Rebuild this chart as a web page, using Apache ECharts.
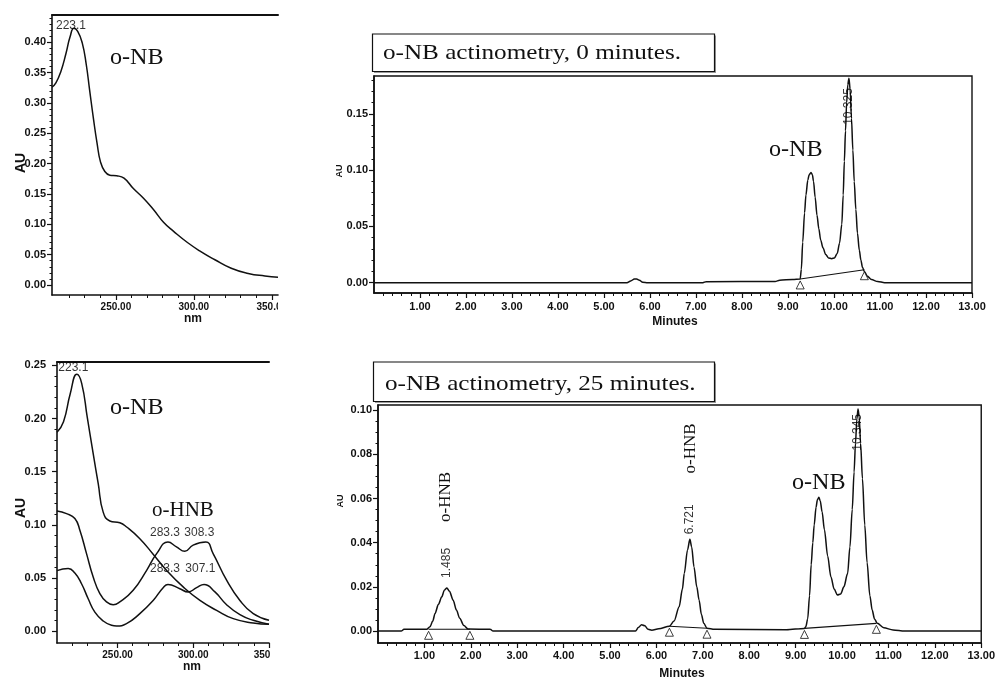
<!DOCTYPE html>
<html>
<head>
<meta charset="utf-8">
<title>o-NB actinometry</title>
<script src="https://cdn.jsdelivr.net/npm/echarts@6/dist/echarts.min.js"></script>
<style>
  html, body { margin: 0; padding: 0; background: #fff; }
  #chart { width: 998px; height: 686px; }
</style>
</head>
<body>
<div id="chart"></div>
<script>
// ---------- UV spectra: [wavelength nm, absorbance AU] ----------
const spectrumNB0 = [
  [209, 0.326], [211.5, 0.333], [214.7, 0.352], [218, 0.382], [220.6, 0.409],
  [223.1, 0.423], [225.5, 0.418], [228.4, 0.399], [231, 0.363], [233.1, 0.322],
  [235.7, 0.272], [237.9, 0.234], [240.1, 0.203], [242.9, 0.187], [246.1, 0.181],
  [250.5, 0.180], [255.2, 0.176], [261.2, 0.159], [267.7, 0.143], [274.2, 0.124],
  [280.7, 0.103], [287.2, 0.088], [295.9, 0.070], [304.5, 0.055], [313.2, 0.042],
  [324, 0.0275], [334.9, 0.019], [345.6, 0.0148], [354, 0.0127]
];
const spectrumNB25 = [
  [210, 0.187], [214.3, 0.197], [218.7, 0.223], [223.1, 0.2415], [226.3, 0.233],
  [230, 0.201], [233.9, 0.167], [237.2, 0.139], [240.5, 0.112], [244.9, 0.1037],
  [251.5, 0.102], [256, 0.098], [264.7, 0.087], [273.5, 0.0724], [282.3, 0.0573],
  [293.3, 0.0417], [304.4, 0.029], [315.4, 0.0197], [326.4, 0.0119], [339.6, 0.0078],
  [350, 0.0066]
];
const spectrumHNB1 = [
  [210, 0.113], [216.3, 0.1106], [221.8, 0.106], [225.1, 0.095], [229.5, 0.073],
  [233.9, 0.051], [238.3, 0.0354], [242.7, 0.0276], [247.1, 0.025], [251.5, 0.0276],
  [260.3, 0.0385], [269.2, 0.0573], [275.8, 0.073], [283.3, 0.0839], [288.9, 0.0793],
  [294.4, 0.0752], [299.9, 0.081], [308.3, 0.0839], [313.1, 0.073], [322, 0.048],
  [330.8, 0.029], [339.6, 0.0166], [350, 0.0103]
];
const spectrumHNB2 = [
  [210, 0.057], [217.4, 0.059], [221.8, 0.0547], [226.2, 0.0447], [230.6, 0.0306],
  [235, 0.018], [240.5, 0.0097], [246, 0.0056], [249.3, 0.005], [255.9, 0.0072],
  [264.7, 0.0166], [273.5, 0.029], [280.1, 0.041], [283.3, 0.044], [291.1, 0.040],
  [296.6, 0.037], [302.2, 0.041], [307.1, 0.044], [314.3, 0.037], [322, 0.025],
  [330.8, 0.0156], [339.6, 0.0103], [350, 0.0066]
];
const maximaNB0 = [223.1];
const maximaNB25 = [223.1];
const maximaHNB1 = [283.3, 308.3];
const maximaHNB2 = [283.3, 307.1];

// ---------- HPLC traces: [retention time min, AU] ----------
const trace0min = [
  [0, 0], [5.50, 0], [5.58, 0.0015], [5.66, 0.0032], [5.71, 0.0033], [5.77, 0.0022],
  [5.84, 0.0004], [5.95, 0], [7.15, 0], [7.22, 0.0009], [8.72, 0.0010], [8.82, 0.0022],
  [9.10, 0.0029], [9.265, 0.0033], [9.29, 0.012], [9.32, 0.036], [9.36, 0.062],
  [9.39, 0.078], [9.43, 0.091], [9.46, 0.096], [9.50, 0.098], [9.53, 0.096],
  [9.555, 0.090], [9.59, 0.076], [9.63, 0.060], [9.67, 0.048], [9.71, 0.038],
  [9.76, 0.031], [9.82, 0.025], [9.88, 0.022], [9.95, 0.0213], [10.01, 0.022],
  [10.07, 0.026], [10.12, 0.035], [10.17, 0.052], [10.20, 0.078], [10.225, 0.108],
  [10.25, 0.135], [10.275, 0.160], [10.30, 0.176], [10.325, 0.1818], [10.35, 0.172],
  [10.38, 0.146], [10.41, 0.118], [10.44, 0.090], [10.475, 0.065], [10.51, 0.044],
  [10.55, 0.029], [10.585, 0.020], [10.62, 0.0135], [10.66, 0.010], [10.72, 0.006],
  [10.815, 0.0027], [10.95, 0.001], [11.10, 0], [13, 0]
];
const trace25min = [
  [0, 0], [0.50, 0], [0.56, 0.0008], [1.05, 0.0008], [1.12, 0.002], [1.18, 0.0045],
  [1.23, 0.008], [1.30, 0.012], [1.375, 0.0155], [1.43, 0.0185], [1.485, 0.0195],
  [1.54, 0.018], [1.62, 0.014], [1.69, 0.0095], [1.76, 0.0058], [1.85, 0.0025],
  [1.94, 0.0009], [2.42, 0.0008], [2.48, 0], [5.55, 0], [5.61, 0.0016], [5.68, 0.0029],
  [5.75, 0.0024], [5.82, 0.0008], [5.90, 0.0004], [6.05, 0.0010], [6.28, 0.0022],
  [6.38, 0.0045], [6.49, 0.011], [6.56, 0.019], [6.60, 0.026], [6.67, 0.0367],
  [6.721, 0.0415], [6.76, 0.038], [6.81, 0.029], [6.87, 0.020], [6.92, 0.014],
  [6.97, 0.0075], [7.02, 0.0035], [7.09, 0.0013], [7.25, 0.0008], [8.80, 0.0006],
  [9.19, 0.0012], [9.22, 0.002], [9.26, 0.0055], [9.30, 0.016], [9.335, 0.030],
  [9.37, 0.040], [9.40, 0.048], [9.44, 0.056], [9.47, 0.0595], [9.50, 0.0605],
  [9.53, 0.059], [9.57, 0.054], [9.62, 0.046], [9.69, 0.034], [9.76, 0.0246],
  [9.83, 0.019], [9.90, 0.0163], [9.97, 0.0168], [10.04, 0.020], [10.12, 0.026],
  [10.17, 0.038], [10.22, 0.055], [10.26, 0.072], [10.29, 0.085], [10.32, 0.096],
  [10.345, 0.1005], [10.37, 0.097], [10.40, 0.085], [10.44, 0.069], [10.49, 0.048],
  [10.54, 0.031], [10.60, 0.016], [10.65, 0.0095], [10.70, 0.0055], [10.76, 0.0035],
  [10.90, 0.0015], [11.10, 0.0005], [11.35, 0], [13, 0]
];
const retention0min = [10.325];
const retention25min = [1.485, 6.721, 10.345];
// integration baselines (start, end) drawn under each integrated peak group
const integration0min = [[[9.265, 0.0033], [10.66, 0.0115]]];
const integration25min = [
  [[1.09, 0.0008], [1.98, 0.0008]],
  [[6.28, 0.0022], [7.09, 0.0013]],
  [[9.19, 0.0012], [10.74, 0.0035]]
];

// ---------- tick labels ----------
const nmTicks = [250, 300, 350];
const minuteTicks = [1, 2, 3, 4, 5, 6, 7, 8, 9, 10, 11, 12, 13];
const auTicksSpec0 = [0, 0.05, 0.10, 0.15, 0.20, 0.25, 0.30, 0.35, 0.40];
const auTicksSpec25 = [0, 0.05, 0.10, 0.15, 0.20, 0.25];
const auTicksLC0 = [0, 0.05, 0.10, 0.15];
const auTicksLC25 = [0, 0.02, 0.04, 0.06, 0.08, 0.10];

// ---------- drawing ----------
const INK = '#111';
const SANS = '"Liberation Sans", Arial, Helvetica, sans-serif';
const SERIF = '"Liberation Serif", "Times New Roman", Times, serif';

function steps(from, to, step, skipEvery) {
  const out = [];
  const n = Math.round((to - from) / step);
  for (let i = 0; i <= n; i++) {
    const v = Math.round((from + i * step) * 10000) / 10000;
    if (skipEvery && Math.abs(v / skipEvery - Math.round(v / skipEvery)) < 1e-6) continue;
    out.push(v);
  }
  return out;
}

const grid = [], xAxis = [], yAxis = [], series = [];

function panel(g, c) {
  const gi = grid.length;
  grid.push(Object.assign({ containLabel: false }, g));
  const xi = xAxis.length, yi = yAxis.length;
  const lineStyle = { color: INK, width: 1.6 };
  xAxis.push({
    gridIndex: gi, type: 'value', position: 'bottom', min: c.xMin, max: c.xMax,
    axisLine: { show: true, onZero: false, lineStyle },
    axisTick: { show: true, length: 5, customValues: c.xMajor, lineStyle: { color: INK, width: 1.2 } },
    axisLabel: {
      show: true, customValues: c.xMajor, formatter: v => v.toFixed(2), margin: c.xMargin,
      color: INK, fontFamily: SANS, fontWeight: 'bold', fontSize: c.xFont, hideOverlap: false
    },
    splitLine: { show: false }
  });
  xAxis.push({
    gridIndex: gi, type: 'value', position: 'bottom', min: c.xMin, max: c.xMax,
    axisLine: { show: false, onZero: false },
    axisTick: { show: true, length: 3, customValues: c.xMinor, lineStyle: { color: INK, width: 1 } },
    axisLabel: { show: false }, splitLine: { show: false }
  });
  if (c.topLine) {
    xAxis.push({
      gridIndex: gi, type: 'value', position: 'top', min: c.xMin, max: c.xMax,
      axisLine: { show: true, onZero: false, lineStyle: { color: INK, width: 2 } },
      axisTick: { show: false }, axisLabel: { show: false }, splitLine: { show: false }
    });
  }
  yAxis.push({
    gridIndex: gi, type: 'value', position: 'left', min: c.yMin, max: c.yMax,
    axisLine: { show: true, onZero: false, lineStyle },
    axisTick: { show: true, length: 5, customValues: c.yMajor, lineStyle: { color: INK, width: 1.2 } },
    axisLabel: {
      show: true, customValues: c.yMajor, formatter: v => v.toFixed(2), margin: c.yMargin,
      color: INK, fontFamily: SANS, fontWeight: 'bold', fontSize: 11, hideOverlap: false
    },
    splitLine: { show: false }
  });
  yAxis.push({
    gridIndex: gi, type: 'value', position: 'left', min: c.yMin, max: c.yMax,
    axisLine: { show: false, onZero: false },
    axisTick: { show: true, length: 2.5, customValues: c.yMinor, lineStyle: { color: INK, width: 1 } },
    axisLabel: { show: false }, splitLine: { show: false }
  });
  return { x: xi, y: yi };
}

// smoothness: spectra are broad bands, chromatogram peaks are sharp
function trace(ax, data, smooth, monotone) {
  series.push({
    type: 'line', xAxisIndex: ax.x, yAxisIndex: ax.y, data,
    symbol: 'none', showSymbol: false, smooth, smoothMonotone: monotone ? 'x' : undefined,
    lineStyle: { color: INK, width: 1.5 }, silent: true, z: 3
  });
}

function integration(ax, segments) {
  segments.forEach(seg => {
    series.push({
      type: 'line', xAxisIndex: ax.x, yAxisIndex: ax.y, data: seg,
      symbol: 'none', showSymbol: false, smooth: false,
      lineStyle: { color: INK, width: 1.1 }, silent: true, z: 2
    });
  });
  series.push({
    type: 'scatter', xAxisIndex: ax.x, yAxisIndex: ax.y,
    data: segments.flat(), symbol: 'triangle', symbolSize: 8, symbolOffset: [0, 6],
    itemStyle: { color: '#fff', borderColor: INK, borderWidth: 1 }, silent: true, z: 4
  });
}

function pointAt(data, x) {
  return data.find(p => Math.abs(p[0] - x) < 1e-9);
}

// labelled maxima: each entry [x, dx, dy, align]
function maxima(ax, data, list, digits, rotate, verticalAlign) {
  series.push({
    type: 'scatter', xAxisIndex: ax.x, yAxisIndex: ax.y, symbolSize: 1,
    itemStyle: { color: 'rgba(0,0,0,0)' }, silent: true, z: 5,
    label: {
      show: true, rotate, verticalAlign, color: '#000', fontFamily: SANS, fontSize: 12,
      formatter: p => p.value[0].toFixed(digits)
    },
    data: list.map(([x, dx, dy, align]) => ({
      value: pointAt(data, x).slice(),
      label: { position: [dx + 0.5, dy + 0.5], align }
    }))
  });
}

// top-left: spectrum at 0 min
const axA = panel({ left: 52, top: 15, width: 226, height: 280 }, {
  xMin: 209, xMax: 354, xMajor: nmTicks, xMinor: steps(220, 340, 10, 50), xFont: 10, xMargin: 7,
  yMin: -0.0165, yMax: 0.445, yMajor: auTicksSpec0, yMinor: steps(0.01, 0.44, 0.01, 0.05), yMargin: 6,
  topLine: true
});
trace(axA, spectrumNB0, 0.5, false);
maxima(axA, spectrumNB0, [[maximaNB0[0], -3, 3, 'center']], 1, 0, 'bottom');

// bottom-left: spectra at 25 min
const axB = panel({ left: 57, top: 362, width: 212, height: 281 }, {
  xMin: 210, xMax: 350, xMajor: nmTicks, xMinor: steps(220, 340, 10, 50), xFont: 10, xMargin: 7,
  yMin: -0.011, yMax: 0.2531, yMajor: auTicksSpec25, yMinor: steps(0.01, 0.24, 0.01, 0.05), yMargin: 11,
  topLine: true
});
trace(axB, spectrumNB25, 0.5, false);
trace(axB, spectrumHNB1, 0.5, false);
trace(axB, spectrumHNB2, 0.5, false);
maxima(axB, spectrumNB25, [[maximaNB25[0], -3.5, -1, 'center']], 1, 0, 'bottom');
maxima(axB, spectrumHNB1, [[maximaHNB1[0], -3, -3, 'center'], [maximaHNB1[1], -6.5, -3, 'center']], 1, 0, 'bottom');
maxima(axB, spectrumHNB2, [[maximaHNB2[0], -3, -10, 'center'], [maximaHNB2[1], -3.7, -10, 'center']], 1, 0, 'bottom');

// top-right: chromatogram at 0 min
const axC = panel({ left: 374, top: 76, width: 598, height: 217, show: true, borderColor: INK, borderWidth: 1.4 }, {
  xMin: 0, xMax: 13, xMajor: minuteTicks, xMinor: steps(0.2, 12.8, 0.2, 1), xFont: 11, xMargin: 8,
  yMin: -0.0092, yMax: 0.1837, yMajor: auTicksLC0, yMinor: steps(0.01, 0.18, 0.01, 0.05), yMargin: 6
});
integration(axC, integration0min);
trace(axC, trace0min, 0.3, true);
maxima(axC, trace0min, [[retention0min[0], 0, 10, 'right']], 3, 90, 'middle');

// bottom-right: chromatogram at 25 min
const axD = panel({ left: 378, top: 405, width: 607, height: 238, show: true, borderColor: INK, borderWidth: 1.4 }, {
  xMin: 0, xMax: 13, xMajor: minuteTicks, xMinor: steps(0.2, 12.8, 0.2, 1), xFont: 11, xMargin: 7,
  yMin: -0.0054, yMax: 0.1023, yMajor: auTicksLC25, yMinor: steps(0.005, 0.1, 0.005, 0.02), yMargin: 6
});
integration(axD, integration25min);
trace(axD, trace25min, 0.3, true);
maxima(axD, trace25min, [
  [retention25min[0], 0, -10, 'left'],
  [retention25min[1], 0, -5, 'left'],
  [retention25min[2], 0, 5, 'right']
], 3, 90, 'middle');

// ---------- annotations ----------
function txt(x, y, text, font, opts) {
  return Object.assign({
    type: 'text', x, y, z: 20,
    style: { text, font, fill: INK, align: 'left', verticalAlign: 'middle', textAlign: 'left', textVerticalAlign: 'middle' }
  }, opts || {});
}
function centered(el) {
  el.style.align = el.style.textAlign = 'center';
  return el;
}
function titleBox(x, y, w, h, text, tx, ty) {
  return [
    { type: 'rect', z: 18, shape: { x: x + 1.5, y: y + 1.5, width: w, height: h }, style: { fill: '#9a9a9a' } },
    { type: 'rect', z: 19, shape: { x, y, width: w, height: h }, style: { fill: '#fff', stroke: INK, lineWidth: 1.2 } },
    txt(tx, ty, text, '21.5px ' + SERIF, { scaleX: 1.17 })
  ];
}

const graphic = [].concat(
  titleBox(372.5, 34, 342, 37.5, 'o-NB actinometry, 0 minutes.', 383, 53.5),
  titleBox(373.5, 362, 341, 39.5, 'o-NB actinometry, 25 minutes.', 385, 384.5),
  [
    txt(110, 58, 'o-NB', '23px ' + SERIF, { scaleX: 1.05 }),
    txt(769, 150, 'o-NB', '23px ' + SERIF, { scaleX: 1.05 }),
    txt(110, 408, 'o-NB', '23px ' + SERIF, { scaleX: 1.05 }),
    txt(152, 510, 'o-HNB', '21px ' + SERIF),
    txt(792, 483, 'o-NB', '23px ' + SERIF, { scaleX: 1.05 }),
    centered(txt(446, 497, 'o-HNB', '17px ' + SERIF, { rotation: Math.PI / 2 })),
    centered(txt(691, 448.5, 'o-HNB', '17px ' + SERIF, { rotation: Math.PI / 2 })),

    centered(txt(21, 163, 'AU', 'bold 14px ' + SANS, { rotation: Math.PI / 2 })),
    centered(txt(21, 508, 'AU', 'bold 14px ' + SANS, { rotation: Math.PI / 2 })),
    centered(txt(339.5, 171, 'AU', 'bold 9px ' + SANS, { rotation: Math.PI / 2 })),
    centered(txt(341, 501, 'AU', 'bold 9px ' + SANS, { rotation: Math.PI / 2 })),

    centered(txt(193, 319, 'nm', 'bold 12px ' + SANS)),
    centered(txt(192, 667, 'nm', 'bold 12px ' + SANS)),
    centered(txt(675, 322, 'Minutes', 'bold 12px ' + SANS)),
    centered(txt(682, 674, 'Minutes', 'bold 12px ' + SANS)),

    // cropped edges of the two spectrum panels
    { type: 'rect', z: 30, shape: { x: 278, y: 299, width: 30, height: 16 }, style: { fill: '#fff' } },
    { type: 'rect', z: 30, shape: { x: 271, y: 648, width: 30, height: 15 }, style: { fill: '#fff' } }
  ]
);

const chart = echarts.init(document.getElementById('chart'), null, { renderer: 'canvas' });
chart.setOption({
  animation: false,
  backgroundColor: '#fff',
  grid, xAxis, yAxis, series, graphic
});
</script>
</body>
</html>
